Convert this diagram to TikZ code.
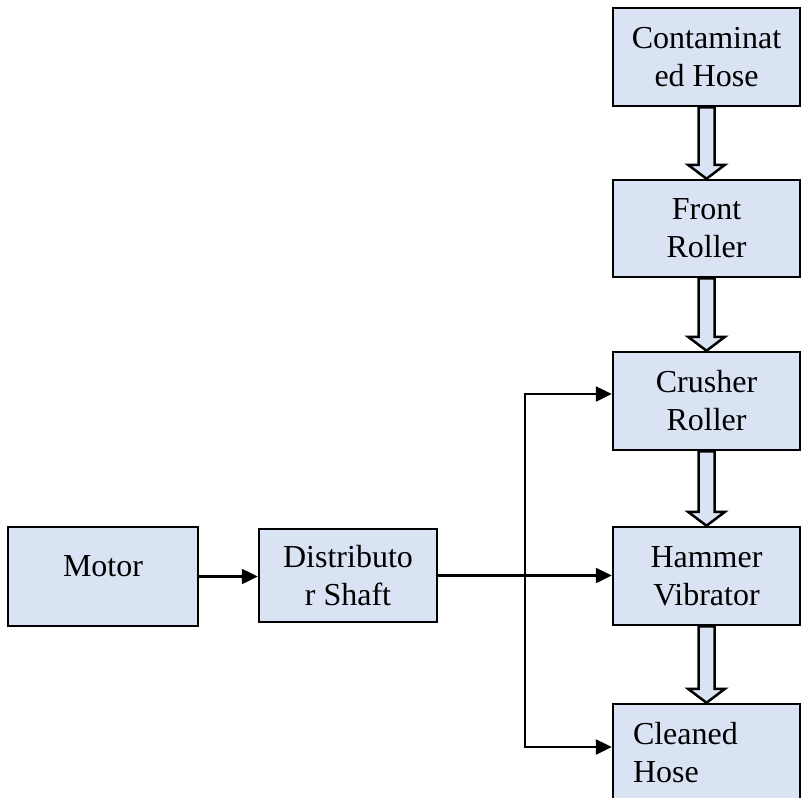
\documentclass[tikz,border=0pt]{standalone}
\usepackage{fontspec}
\setmainfont{Liberation Serif}
\usetikzlibrary{arrows.meta,calc}
\definecolor{boxfill}{HTML}{DAE3F3}
\begin{document}
\begin{tikzpicture}[x=1pt,y=-1pt,
  blk/.style={draw,fill=boxfill,line width=2.5pt,minimum width=187pt,minimum height=98pt,
    inner sep=0pt,align=center,font=\fontsize{32}{38}\selectfont},
  conn/.style={line width=2.5pt,-{Triangle[length=16pt,width=15pt]}},
  fat/.style={draw,fill=boxfill,line width=2.5pt}]
\useasboundingbox (0,0) rectangle (801,798);
% process column
\node[blk] (contam) at (706.5,57) {Contaminat\\ed Hose};
\node[blk,minimum height=97pt] (front) at (706.5,228.5) {Front\\Roller};
\node[blk] (crusher) at (706.5,401) {Crusher\\Roller};
\node[blk] (hammer) at (706.5,576) {Hammer\\Vibrator};
\node[blk,align=left,text width=147pt] (cleaned) at (706.5,753) {Cleaned\\Hose};
% drive
\node[blk,minimum width=190pt,minimum height=99pt,text height=22pt,text depth=22pt] (motor) at (103,576.5) {Motor};
\node[blk,minimum width=178pt,minimum height=93pt] (dist) at (348,575.5) {Distributo\\r Shaft};
%
\foreach \a/\b in {contam/front,front/crusher,crusher/hammer,hammer/cleaned}
  \draw[fat] ($(\a.south)+(-8,0)$) -- ($(\b.north)+(-8,-14)$) -- ($(\b.north)+(-18.5,-14)$)
    -- (\b.north) -- ($(\b.north)+(18.5,-14)$) -- ($(\b.north)+(8,-14)$) -- ($(\a.south)+(8,0)$) -- cycle;
%
\draw[conn] (motor.east) -- (motor.east -| dist.west);
\coordinate (hub) at ($(dist.east)!.5!(dist.east -| hammer.west)$);
\draw[conn] (dist.east) -- (dist.east -| hammer.west);
\draw[conn] (hub) |- ([yshift=7pt]crusher.west);
\draw[conn] (hub) |- ([yshift=6pt]cleaned.west);
\end{tikzpicture}
\end{document}
